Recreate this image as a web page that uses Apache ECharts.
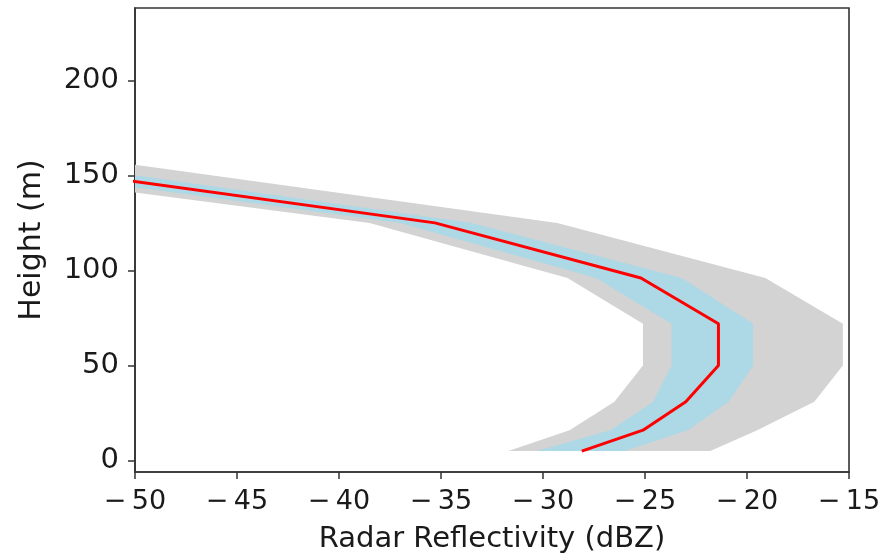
<!DOCTYPE html>
<html>
<head>
<meta charset="utf-8">
<script src="https://cdn.jsdelivr.net/npm/echarts@6/dist/echarts.min.js"></script>
<style>
html,body{margin:0;padding:0;background:#fff;}
#chart{width:888px;height:556px;}
</style>
</head>
<body>
<div id="chart"></div>
<script>
// Heights (m) of the profile levels
const heights   = [5, 16, 31, 50, 72, 96, 125, 160];
// Mean radar reflectivity (dBZ)
const meanDbz   = [-28.1, -25.1, -23.0, -21.4, -21.4, -25.2, -35.3, -59.0];
// Inner (light blue) band
const innerLow  = [-30.3, -26.7, -24.6, -23.7, -23.7, -27.4, -37.0, -61.3];
const innerHigh = [-26.0, -22.9, -20.9, -19.7, -19.7, -23.2, -33.5, -56.5];
// Outer (grey) band
const outerLow  = [-31.7, -28.7, -26.5, -25.1, -25.1, -28.8, -38.5, -63.7];
const outerHigh = [-21.8, -19.5, -16.7, -15.3, -15.3, -19.1, -29.3, -53.0];
// Tick values
const xTicks = [-50, -45, -40, -35, -30, -25, -20, -15];
const yTicks = [0, 50, 100, 150, 200];

const FONT = 'DejaVu Sans';

function bandSeries(low, high, color, z) {
  return {
    type: 'custom',
    clip: true,
    z: z,
    silent: true,
    data: heights.map((h, i) => [low[i], high[i], h]),
    encode: { x: [0, 1], y: 2 },
    renderItem: function (params, api) {
      if (params.dataIndex !== 0) return null;
      const pts = [];
      for (let i = 0; i < heights.length; i++) pts.push(api.coord([low[i], heights[i]]));
      for (let i = heights.length - 1; i >= 0; i--) pts.push(api.coord([high[i], heights[i]]));
      const cs = params.coordSys;
      return {
        type: 'polygon',
        shape: { points: pts },
        style: { fill: color, stroke: null },
        clipPath: { type: 'rect', shape: { x: cs.x, y: cs.y, width: cs.width, height: cs.height } }
      };
    }
  };
}

const chart = echarts.init(document.getElementById('chart'), null, { renderer: 'canvas' });
const fmt = v => (v < 0 ? '\u2212\u2009' + Math.abs(v) : String(v));

chart.setOption({
  animation: false,
  backgroundColor: '#ffffff',
  grid: {
    left: 135, right: 39, top: 8, bottom: 84,
    containLabel: false,
    outerBoundsMode: 'none',
    show: true, borderColor: '#333', borderWidth: 1.6, backgroundColor: 'transparent'
  },
  xAxis: {
    type: 'value',
    min: -50, max: -15, interval: 5,
    name: 'Radar Reflectivity (dBZ)',
    nameLocation: 'middle',
    nameGap: 53,
    nameTextStyle: { fontFamily: FONT, fontSize: 29, color: '#1a1a1a' },
    axisLine: { show: true, onZero: false, lineStyle: { color: '#333', width: 1.6 } },
    axisTick: { show: true, inside: false, length: 7, lineStyle: { color: '#333', width: 1.5 } },
    axisLabel: {
      fontFamily: FONT, fontSize: 27, color: '#1a1a1a', margin: 16,
      formatter: fmt, customValues: xTicks
    },
    splitLine: { show: false }
  },
  yAxis: {
    type: 'value',
    min: -6, max: 238,
    name: 'Height (m)',
    nameLocation: 'middle',
    nameGap: 88,
    nameRotate: 90,
    nameTextStyle: { fontFamily: FONT, fontSize: 30, color: '#1a1a1a' },
    axisLine: { show: true, onZero: false, lineStyle: { color: '#333', width: 1.6 } },
    axisTick: { show: true, inside: false, length: 7, lineStyle: { color: '#333', width: 1.5 }, customValues: yTicks },
    axisLabel: {
      fontFamily: FONT, fontSize: 29, color: '#1a1a1a', margin: 16,
      customValues: yTicks
    },
    splitLine: { show: false }
  },
  series: [
    bandSeries(outerLow, outerHigh, '#d3d3d3', 1),
    bandSeries(innerLow, innerHigh, '#add8e6', 2),
    {
      type: 'line',
      z: 3,
      clip: true,
      symbol: 'none',
      silent: true,
      data: heights.map((h, i) => [meanDbz[i], h]),
      lineStyle: { color: '#ff0000', width: 3 }
    }
  ]
});
</script>
</body>
</html>
